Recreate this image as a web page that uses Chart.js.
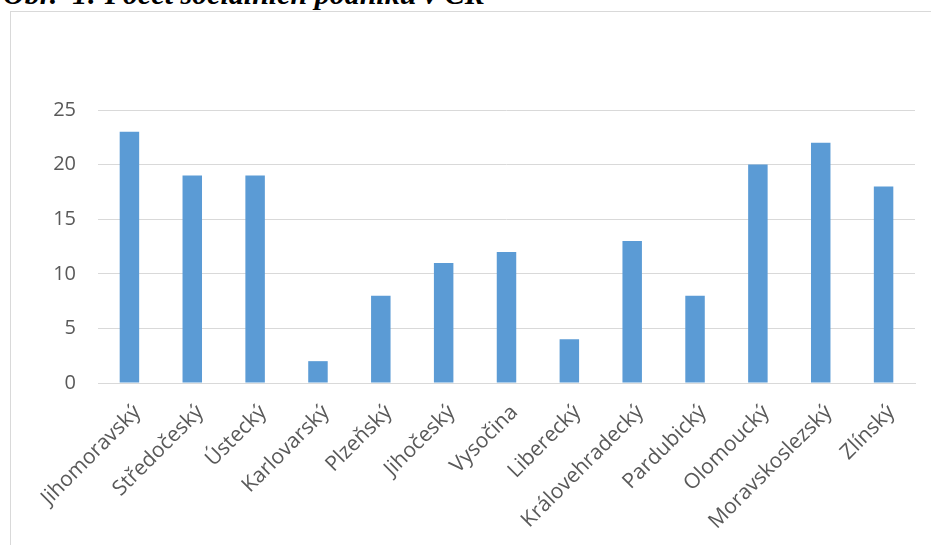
<!DOCTYPE html>
<html>
<head>
<meta charset="utf-8">
<script src="https://cdn.jsdelivr.net/npm/chart.js@4"></script>
<style>
  body { margin: 0; background: #fff; width: 931px; height: 545px; overflow: hidden; position: relative; }
  #titulek { position: absolute; left: 3px; top: -23px; font: italic bold 30px "Liberation Serif", "Times New Roman", serif; color: #000; white-space: pre; }
  #ramecek { position: absolute; left: 10px; top: 11px; width: 940px; height: 560px; border: 1px solid #d9d9d9; }
  #graf { position: absolute; left: 0; top: 0; }
</style>
</head>
<body>
<div id="titulek">Obr.  1: Počet sociálních podniků v ČR</div>
<div id="ramecek"></div>
<canvas id="graf" width="931" height="545"></canvas>
<script>
const kraje = ["Jihomoravský", "Středočeský", "Ústecký", "Karlovarský", "Plzeňský", "Jihočeský", "Vysočina",
  "Liberecký", "Královehradecký", "Pardubický", "Olomoucký", "Moravskoslezský", "Zlínský"];
const pocty = [23, 19, 19, 2, 8, 11, 12, 4, 13, 8, 20, 22, 18];
const osaY = { min: 0, max: 25, krok: 5 };

const ctx = document.getElementById("graf").getContext("2d");

new Chart(ctx, {
  type: "bar",
  data: {
    labels: kraje,
    datasets: [{
      label: "Počet",
      data: pocty,
      backgroundColor: "#5b9bd5",
      borderWidth: 0,
      barPercentage: 0.31,
      categoryPercentage: 1
    }]
  },
  options: {
    responsive: false,
    animation: false,
    layout: { padding: { left: 0, right: 16, top: 110, bottom: 0 } },
    plugins: { legend: { display: false }, tooltip: { enabled: false } },
    scales: {
      x: {
        grid: { display: false },
        border: { color: "#d9d9d9", width: 1 },
        ticks: {
          color: "#595959",
          font: { family: "Open Sans", size: 21 },
          minRotation: 45,
          maxRotation: 45,
          labelOffset: 8,
          padding: 9
        },
        afterFit: s => { s.height = 162; }
      },
      y: {
        min: osaY.min,
        max: osaY.max,
        grid: { color: "#d9d9d9", drawTicks: false },
        border: { display: false },
        ticks: {
          stepSize: osaY.krok,
          color: "#595959",
          font: { family: "Open Sans", size: 20 },
          padding: 22
        },
        afterFit: s => { s.width = 98; }
      }
    }
  }
});
</script>
</body>
</html>
